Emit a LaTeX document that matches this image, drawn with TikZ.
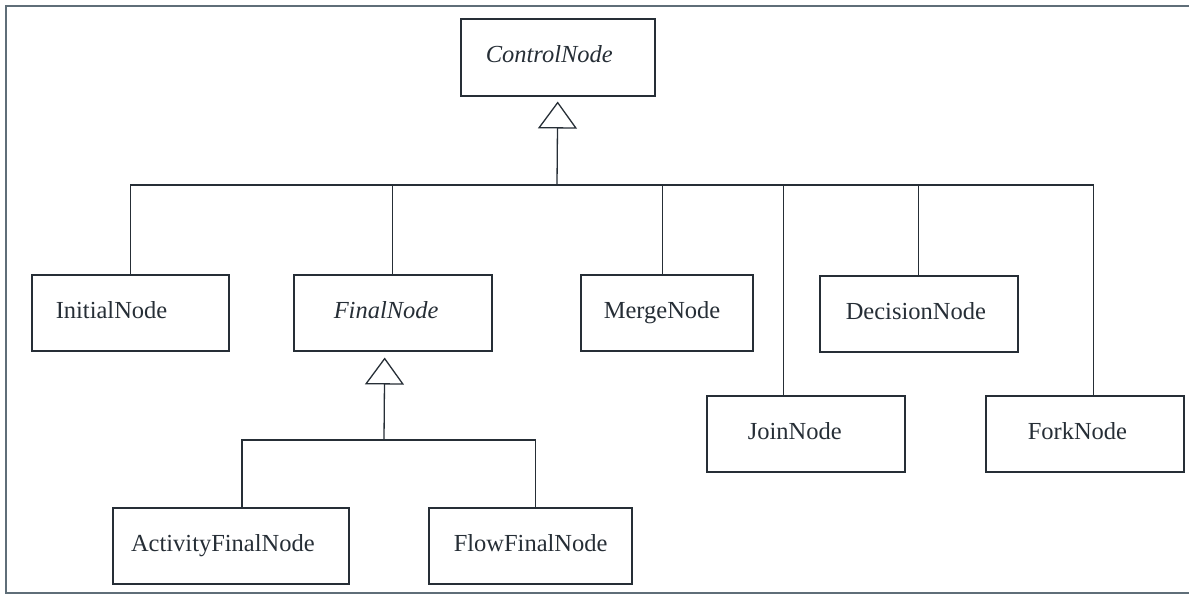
\documentclass[tikz,border=0pt]{standalone}
\usepackage{fontspec}
\setmainfont{Liberation Serif}
\usetikzlibrary{arrows.meta}
\definecolor{ink}{RGB}{38,46,54}
\definecolor{framec}{RGB}{95,110,120}
\begin{document}
\begin{tikzpicture}[x=1pt,y=-1pt,
  cls/.style={draw=ink, line width=1.5pt, text=ink, anchor=north west,
    text width=#1, align=left, inner xsep=0pt, inner ysep=0pt,
    minimum height=76pt, font=\fontsize{24.5}{28}\selectfont},
  link/.style={draw=ink, line width=1.3pt},
  gen/.style={link, -{Triangle[open, length=27pt, width=39pt]}, shorten >=5pt}]
\useasboundingbox (0,0) rectangle (1189,595);

% outer frame
\draw[framec, line width=1.2pt] (1189,6) -- (6,6) -- (6,593) -- (1189,593);

% classes
\node[cls=194pt, minimum height=77pt] (ctl) at (460,18) {\strut\hspace*{25pt}\textit{ControlNode}};
\node[cls=197pt] (init)  at (31,274)  {\strut\hspace*{24pt}InitialNode};
\node[cls=198pt] (final) at (293,274) {\strut\hspace*{40pt}\textit{FinalNode}};
\node[cls=172pt] (merge) at (580,274) {\strut\hspace*{23pt}MergeNode};
\node[cls=198pt] (dec)   at (819,275) {\strut\hspace*{26pt}DecisionNode};
\node[cls=198pt] (join)  at (706,395) {\strut\hspace*{41pt}JoinNode};
\node[cls=198pt] (fork)  at (985,395) {\strut\hspace*{42pt}ForkNode};
\node[cls=236pt, line width=2pt] (afn) at (112,507) {\strut\hspace*{18pt}ActivityFinalNode};
\node[cls=203pt] (ffn)   at (428,507) {\strut\hspace*{25pt}FlowFinalNode};

% generalisation to ControlNode
\coordinate (bus) at (557,185);
\draw[link] (init.north) |- (bus);
\draw[link] (final.north) |- (bus);
\draw[link] ([xshift=-4pt]merge.north) |- (bus);
\draw[link] (dec.north) |- (bus);
\draw[link] ([xshift=-22pt]join.north) |- (bus);
\draw[link] ([xshift=9pt]fork.north) |- (bus);
\draw[gen] (bus) -- (ctl.south);

% generalisation to FinalNode
\coordinate (sub) at (384,440);
\draw[link] ([xshift=11pt]afn.north) |- (sub);
\draw[link] ([xshift=5pt]ffn.north) |- (sub);
\draw[gen, shorten >=6pt] (sub) -- ([xshift=-8pt]final.south);
\end{tikzpicture}
\end{document}
